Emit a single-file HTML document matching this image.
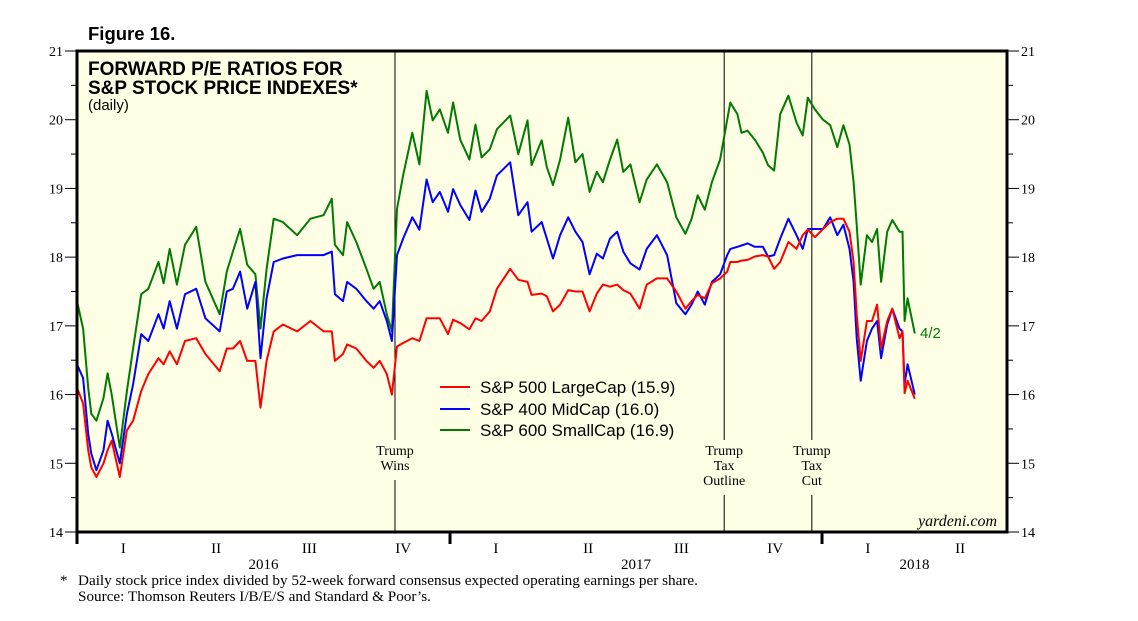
<!DOCTYPE html>
<html><head><meta charset="utf-8">
<style>
body{margin:0;background:#fff;}
svg{display:block;}
text{font-family:"Liberation Serif",serif;}
.sans{font-family:"Liberation Sans",sans-serif;}
</style></head>
<body>
<svg id="chart" width="1138" height="621" viewBox="0 0 1138 621" xmlns="http://www.w3.org/2000/svg">
  <rect x="77" y="51" width="930" height="481" fill="#ffffe6"/>
  <g id="grid"></g>
  <g id="series"></g>
  <rect x="77" y="51" width="930" height="481" fill="none" stroke="#000" stroke-width="3"/>
  <text x="88" y="40" class="sans" font-size="18.5" font-weight="bold">Figure 16.</text>
  <text x="88" y="75" class="sans" font-size="19" font-weight="bold">FORWARD P/E RATIOS FOR</text>
  <text x="88" y="94" class="sans" font-size="19" font-weight="bold">S&amp;P STOCK PRICE INDEXES*</text>
  <text x="88" y="110" class="sans" font-size="15">(daily)</text>
  <g>
    <line x1="440" y1="387" x2="470" y2="387" stroke="#f00" stroke-width="2"/>
    <text x="480" y="393" class="sans" font-size="17">S&amp;P 500 LargeCap (15.9)</text>
    <line x1="440" y1="409" x2="470" y2="409" stroke="#00f" stroke-width="2"/>
    <text x="480" y="415" class="sans" font-size="17">S&amp;P 400 MidCap (16.0)</text>
    <line x1="440" y1="430" x2="470" y2="430" stroke="#007a00" stroke-width="2"/>
    <text x="480" y="436" class="sans" font-size="17">S&amp;P 600 SmallCap (16.9)</text>
  </g>
  <text x="920" y="338" class="sans" font-size="15" fill="#007a00">4/2</text>
  <text x="997" y="526" font-size="16" font-style="italic" text-anchor="end">yardeni.com</text>
  <text x="60" y="585" font-size="15">*</text>
  <text x="78" y="585" font-size="15.2">Daily stock price index divided by 52-week forward consensus expected operating earnings per share.</text>
  <text x="78" y="601" font-size="15.2">Source: Thomson Reuters I/B/E/S and Standard &amp; Poor’s.</text>
</svg>
<script>
// days since 2016-01-01
const days = [0,6,11,14,19,26,30,34,42,49,55,63,70,80,85,91,98,106,117,126,140,147,153,160,167,175,180,186,193,202,216,229,242,250,253,261,265,274,284,291,297,304,309,
314,320,329,336,343,349,356,364,369,376,385,391,397,405,412,425,433,442,446,456,461,467,474,482,489,496,503,510,516,523,530,536,543,552,559,569,579,588,597,603,609,616,623,631,638,
641,648,652,658,665,673,678,684,690,698,706,712,717,724,732,739,746,752,758,762,765,769,775,780,785,789,795,800,807,810,812,815,822];
const sp600 = [17.36,16.96,16.1,15.72,15.62,15.95,16.31,16.0,15.23,16.05,16.67,17.46,17.54,17.93,17.62,18.12,17.6,18.18,18.44,17.64,17.17,17.79,18.08,18.41,17.89,17.75,16.96,17.83,18.56,18.51,18.32,18.56,18.61,18.85,18.18,18.03,18.51,18.22,17.83,17.54,17.64,17.17,16.92,
18.7,19.19,19.81,19.35,20.42,19.99,20.15,19.81,20.25,19.71,19.42,19.93,19.45,19.57,19.86,20.06,19.5,19.99,19.34,19.7,19.31,19.05,19.42,20.03,19.38,19.5,18.95,19.24,19.09,19.42,19.71,19.24,19.35,18.8,19.13,19.35,19.09,18.58,18.34,18.56,18.9,18.69,19.09,19.42,20.0,
20.25,20.08,19.81,19.84,19.71,19.52,19.34,19.26,20.08,20.35,19.96,19.77,20.32,20.15,20.0,19.92,19.6,19.92,19.64,19.09,18.47,17.6,18.32,18.22,18.41,17.64,18.37,18.54,18.37,18.37,17.07,17.4,16.89];
const sp400 = [16.44,16.24,15.43,15.14,14.9,15.19,15.62,15.43,15.0,15.72,16.15,16.88,16.78,17.17,16.96,17.36,16.96,17.46,17.54,17.11,16.92,17.5,17.54,17.79,17.25,17.64,16.53,17.4,17.93,17.98,18.03,18.03,18.03,18.08,17.46,17.36,17.64,17.54,17.36,17.25,17.36,17.07,16.78,
18.03,18.27,18.58,18.4,19.13,18.8,18.95,18.66,18.99,18.76,18.54,18.97,18.66,18.85,19.19,19.38,18.61,18.8,18.37,18.51,18.27,17.98,18.32,18.58,18.37,18.22,17.75,18.05,17.98,18.27,18.37,18.08,17.91,17.82,18.12,18.32,18.03,17.33,17.17,17.31,17.5,17.31,17.64,17.75,18.03,
18.12,18.15,18.17,18.2,18.15,18.15,18.01,18.03,18.27,18.56,18.32,18.12,18.41,18.41,18.41,18.58,18.32,18.47,18.12,17.64,16.82,16.2,16.78,16.96,17.07,16.53,17.02,17.25,16.96,16.92,16.15,16.44,16.0];
const sp500 = [16.1,15.87,15.19,14.94,14.8,15.0,15.19,15.33,14.8,15.48,15.62,16.05,16.3,16.53,16.44,16.63,16.44,16.78,16.82,16.59,16.34,16.67,16.67,16.78,16.49,16.49,15.81,16.49,16.92,17.02,16.92,17.07,16.92,16.92,16.49,16.59,16.73,16.67,16.49,16.39,16.49,16.3,16.0,
16.7,16.75,16.82,16.78,17.11,17.11,17.11,16.88,17.09,17.04,16.95,17.11,17.07,17.21,17.54,17.83,17.67,17.64,17.45,17.47,17.43,17.21,17.31,17.52,17.5,17.5,17.21,17.47,17.6,17.57,17.6,17.52,17.47,17.25,17.6,17.69,17.69,17.5,17.25,17.36,17.45,17.4,17.62,17.69,17.79,
17.93,17.93,17.95,17.96,18.01,18.03,18.01,17.83,17.93,18.22,18.12,18.32,18.4,18.29,18.41,18.51,18.56,18.56,18.37,17.93,17.17,16.49,17.07,17.07,17.31,16.67,17.07,17.25,16.82,16.92,16.02,16.2,15.94];
const yTicks = [14,15,16,17,18,19,20,21];
const quarterLabels = ["I","II","III","IV","I","II","III","IV","I","II"];
const quarterStart = [0,91,182,274,366,456,547,639,731,821,912];
const yearLabels = ["2016","2017","2018"];
const yearStart = [0,366,731];
const events = [{d:312,l:["Trump","Wins"]},{d:635,l:["Trump","Tax","Outline"]},{d:721,l:["Trump","Tax","Cut"]}];

const X0=77,X1=1007,Y0=532,Y1=51,D1=912.5;
const xs = d => X0 + d*(X1-X0)/D1;
const ys = v => Y0 - (v-14)*(Y0-Y1)/7;
const NS="http://www.w3.org/2000/svg";
const svg=document.getElementById('chart');
const grid=document.getElementById('grid');
const ser=document.getElementById('series');
function mk(tag,attrs,parent){const e=document.createElementNS(NS,tag);for(const k in attrs)e.setAttribute(k,attrs[k]);parent.appendChild(e);return e;}

yTicks.forEach((v,i)=>{
  const y=ys(v);
  let t=mk('line',{x1:X0-12,x2:X0,y1:y,y2:y,stroke:'#000','stroke-width':1},svg);
  
  
  t=mk('line',{x1:X1,x2:X1+12,y1:y,y2:y,stroke:'#000','stroke-width':1},svg);
  
  
  let l=mk('text',{x:X0-14,y:y+5,'font-size':14,'text-anchor':'end'},svg);l.textContent=v;
  
  
  l=mk('text',{x:X1+14,y:y+5,'font-size':14},svg);l.textContent=v;
  
  
  if(i<yTicks.length-1){const ym=ys(v+0.5);
    t=mk('line',{x1:X0-6,x2:X0,y1:ym,y2:ym,stroke:'#000','stroke-width':1},svg);
    
    
    t=mk('line',{x1:X1,x2:X1+6,y1:ym,y2:ym,stroke:'#000','stroke-width':1},svg);
    
    }
});
quarterLabels.forEach((q,i)=>{
  const xm=(xs(quarterStart[i])+xs(Math.min(quarterStart[i+1],D1+91)))/2;
  const l=mk('text',{x:xm,y:553,'font-size':15,'text-anchor':'middle'},svg);l.textContent=q;
  
  
});
yearLabels.forEach((yr,i)=>{
  const x=xs(yearStart[i]);
  const t=mk('line',{x1:x,x2:x,y1:Y0,y2:Y0+12,stroke:'#000','stroke-width':3},svg);
  
  
  const end=i<2?yearStart[i+1]:D1;
  const l=mk('text',{x:xs((yearStart[i]+end)/2),y:569,'font-size':15,'text-anchor':'middle'},svg);l.textContent=yr;
  
  
});
events.forEach(ev=>{
  const x=xs(ev.d);const n=ev.l.length;
  const top=440, bot=top+n*15+10;
  let ln=mk('line',{x1:x,x2:x,y1:Y1,y2:top,stroke:'#000','stroke-width':1},grid);
  
  
  ln=mk('line',{x1:x,x2:x,y1:bot,y2:Y0,stroke:'#000','stroke-width':1},grid);
  
  
  ev.l.forEach((s,j)=>{const t=mk('text',{x:x,y:top+15+j*15,'font-size':14,'text-anchor':'middle'},grid);t.textContent=s;
    
    });
});
[[sp600,'#007a00','sp600-line'],[sp400,'#0000ff','sp400-line'],[sp500,'#ff0000','sp500-line']].forEach(([vals,c,name])=>{
  const p=mk('polyline',{points:vals.map((v,i)=>xs(days[i]).toFixed(1)+','+ys(v).toFixed(1)).join(' '),fill:'none',stroke:c,'stroke-width':2,'stroke-linejoin':'round'},ser);
  
  
});
</script>
</body></html>
